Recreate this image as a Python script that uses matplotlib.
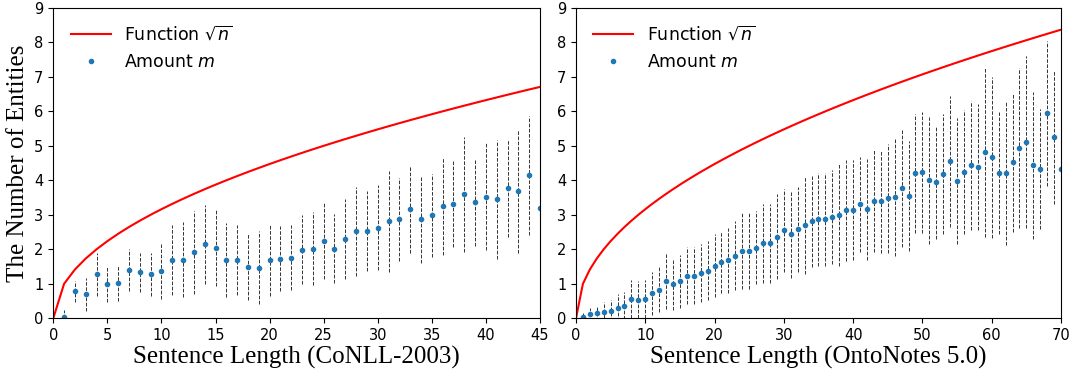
import numpy as np
import matplotlib
matplotlib.use("Agg")
import matplotlib.pyplot as plt

# CoNLL-2003: sentence length n = 1..45, mean amount of entities and its std
conll_n = list(range(1, 46))
conll_mean = [0.05, 0.78, 0.69, 1.27, 0.99, 1.02, 1.41, 1.33, 1.27, 1.36,
              1.68, 1.70, 1.91, 2.14, 2.05, 1.68, 1.68, 1.50, 1.47, 1.70,
              1.73, 1.76, 1.99, 2.02, 2.23, 2.02, 2.29, 2.52, 2.52, 2.63,
              2.81, 2.87, 3.16, 2.87, 2.98, 3.25, 3.31, 3.59, 3.36, 3.53,
              3.45, 3.77, 3.68, 4.14, 3.21]
conll_std = [0.20, 0.30, 0.47, 0.62, 0.52, 0.52, 0.61, 0.57, 0.62, 0.79,
             1.01, 1.08, 1.21, 1.15, 1.11, 1.07, 1.01, 0.98, 1.05, 1.04,
             0.95, 0.95, 1.00, 1.05, 1.10, 1.00, 1.16, 1.30, 1.16, 1.23,
             1.47, 1.20, 1.26, 1.26, 1.20, 1.41, 1.25, 1.68, 1.26, 1.55,
             1.73, 1.41, 1.78, 1.72, 1.90]

# OntoNotes 5.0: sentence length n = 1..70
onto_n = list(range(1, 71))
onto_mean = [0.05, 0.11, 0.14, 0.17, 0.22, 0.31, 0.37, 0.57, 0.54, 0.57,
             0.72, 0.83, 1.07, 0.98, 1.07, 1.24, 1.24, 1.30, 1.38, 1.53,
             1.62, 1.68, 1.82, 1.96, 1.96, 2.05, 2.17, 2.17, 2.37, 2.55,
             2.43, 2.58, 2.69, 2.81, 2.87, 2.87, 2.93, 2.99, 3.13, 3.13,
             3.30, 3.16, 3.39, 3.39, 3.48, 3.51, 3.77, 3.54, 4.20, 4.23,
             4.00, 3.94, 4.17, 4.55, 3.97, 4.23, 4.43, 4.38, 4.81, 4.67,
             4.20, 4.20, 4.52, 4.94, 5.10, 4.43, 4.32, 5.94, 5.25, 4.32]
onto_std = [0.10, 0.19, 0.22, 0.30, 0.30, 0.39, 0.39, 0.55, 0.53, 0.55,
            0.62, 0.66, 0.80, 0.74, 0.76, 0.84, 0.82, 0.84, 0.85, 0.92,
            0.89, 0.94, 1.00, 1.10, 1.10, 1.07, 1.14, 1.14, 1.23, 1.21,
            1.25, 1.24, 1.40, 1.32, 1.35, 1.35, 1.37, 1.48, 1.47, 1.45,
            1.37, 1.47, 1.48, 1.50, 1.58, 1.70, 1.70, 1.60, 1.72, 1.76,
            1.85, 1.63, 1.74, 1.90, 1.83, 1.80, 1.87, 1.83, 2.44, 2.33,
            1.77, 2.09, 2.02, 2.32, 2.49, 2.12, 1.74, 2.11, 1.93, 1.90]

panels = [
    (conll_n, conll_mean, conll_std, 45, "Sentence Length (CoNLL-2003)"),
    (onto_n, onto_mean, onto_std, 70, "Sentence Length (OntoNotes 5.0)"),
]

fig = plt.figure(figsize=(10.74, 3.74), dpi=100)
axes = [fig.add_axes([0.0496, 0.149, 0.4532, 0.830]),
        fig.add_axes([0.5363, 0.149, 0.4516, 0.830])]

serif = ["Liberation Serif", "DejaVu Serif"]

for ax, (n, m, s, xmax, xlabel) in zip(axes, panels):
    n = np.array(n)
    m = np.array(m)
    s = np.array(s)
    grid = np.arange(0, xmax + 1)
    ax.plot(grid, np.sqrt(grid), color="red", linewidth=1.5,
            label=r"Function $\sqrt{n}$")
    ax.vlines(n, m - s, m + s, colors="#333333", linestyles="dashed",
              linewidth=0.7)
    ax.plot(n, m, ".", color="tab:blue", markersize=6, label=r"Amount $m$")
    ax.set_xlim(0, xmax)
    ax.set_ylim(0, 9)
    ax.set_yticks(range(0, 10))
    ax.tick_params(labelsize=10.5)
    ax.set_xlabel(xlabel, fontsize=18, family=serif, labelpad=2)
    ax.legend(loc="upper left", frameon=False, fontsize=12.5,
              handlelength=2.3, borderaxespad=0.6)

axes[0].set_ylabel("The Number of Entities", fontsize=18, family=serif,
                   labelpad=4)

fig.savefig("out.png", dpi=100)
